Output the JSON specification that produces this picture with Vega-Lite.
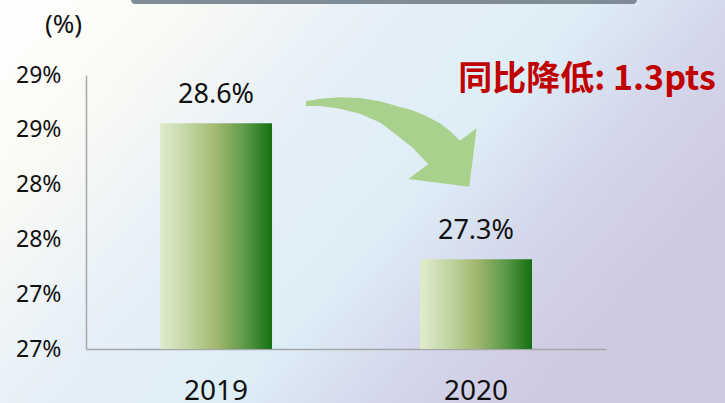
{
  "$schema": "https://vega.github.io/schema/vega-lite/v6.json",
  "width": 725,
  "height": 403,
  "autosize": {"type": "none"},
  "padding": 0,
  "background": "#E4EDF6",
  "config": {
    "font": "Noto Sans",
    "view": {
      "stroke": null,
      "fill": {
        "gradient": "linear",
        "x1": 0, "y1": 0, "x2": 1, "y2": 0.5,
        "stops": [
          {"offset": 0, "color": "#FFFFFF"},
          {"offset": 0.2, "color": "#FAFAF5"},
          {"offset": 0.45, "color": "#E5EFF8"},
          {"offset": 0.65, "color": "#DDEEF7"},
          {"offset": 0.82, "color": "#D4D6EA"},
          {"offset": 1, "color": "#CEC9E1"}
        ]
      }
    }
  },
  "resolve": {"scale": {"x": "independent"}},
  "layer": [
    {
      "data": {"values": [
        {"year": "2019", "value": 28.56, "label": "28.6%"},
        {"year": "2020", "value": 27.32, "label": "27.3%"}
      ]},
      "encoding": {
        "x": {
          "field": "year", "type": "nominal", "sort": null,
          "scale": {"range": [86, 606], "paddingInner": 0.569, "paddingOuter": 0.2846},
          "axis": {
            "title": null, "orient": "bottom", "offset": -54,
            "domainColor": "#A6A6A6", "domainWidth": 1.5,
            "ticks": false, "tickSize": 0,
            "labelAngle": 0, "labelFontSize": 28, "labelColor": "#111111",
            "labelBaseline": "alphabetic", "labelPadding": 50
          }
        },
        "y": {
          "field": "value", "type": "quantitative",
          "scale": {"domain": [26.5, 29], "range": [349, 75], "nice": false, "zero": false},
          "axis": {
            "orient": "left", "offset": -86,
            "values": [26.5, 27, 27.5, 28, 28.5, 29],
            "labelExpr": "format(datum.value, '.0f') + '%'",
            "grid": false, "ticks": false, "tickSize": 0,
            "domainColor": "#A6A6A6", "domainWidth": 1.5,
            "labelFontSize": 23, "labelColor": "#111111", "labelPadding": 25,
            "labelBaseline": "middle",
            "title": "(%)", "titleAngle": 0, "titleX": -23, "titleY": 24,
            "titleAlign": "center", "titleBaseline": "middle",
            "titleFontSize": 26, "titleFontWeight": "normal", "titleColor": "#111111"
          }
        }
      },
      "layer": [
        {
          "mark": {
            "type": "bar",
            "color": {
              "gradient": "linear", "x1": 0, "y1": 0, "x2": 1, "y2": 0,
              "stops": [
                {"offset": 0, "color": "#E1EBCE"},
                {"offset": 0.25, "color": "#C1D6A3"},
                {"offset": 0.5, "color": "#A2B86F"},
                {"offset": 0.75, "color": "#5E9B4B"},
                {"offset": 1, "color": "#137012"}
              ]
            }
          },
          "encoding": {"y2": {"datum": 26.5}}
        },
        {
          "mark": {"type": "text", "dy": -20, "baseline": "alphabetic", "fontSize": 27, "color": "#111111"},
          "encoding": {"text": {"field": "label"}}
        }
      ]
    },
    {
      "layer": [
        {
          "data": {"values": [
            {"x0": 0.173, "x1": 2.119, "y0": 29.74, "y1": 29.648}
          ]},
          "mark": {"type": "rect", "color": "#7F8C96", "cornerRadius": 4},
          "encoding": {
            "x": {"field": "x0", "type": "quantitative", "scale": {"domain": [0, 2], "range": [86, 606]}, "axis": null},
            "x2": {"field": "x1"},
            "y": {"field": "y0", "type": "quantitative"},
            "y2": {"field": "y1"}
          }
        },
        {
          "data": {"values": [{"px": 1.169, "val": 28.361}]},
          "mark": {
            "type": "point",
            "shape": "M-0.84,-0.437L-0.7,-0.463L-0.5,-0.477L-0.3,-0.47L-0.1,-0.437L0.1,-0.38L0.217,-0.35L0.35,-0.295L0.5,-0.217L0.6,-0.14L0.7,-0.043L0.867,-0.167L0.793,0.417L0.183,0.34L0.383,0.193L0.233,0.033L0.067,-0.1L-0.1,-0.225L-0.3,-0.313L-0.5,-0.363L-0.7,-0.39L-0.84,-0.39Z",
            "size": 40000, "filled": true, "color": "#A9D18E", "opacity": 1, "strokeWidth": 0
          },
          "encoding": {
            "x": {"field": "px", "type": "quantitative", "scale": {"domain": [0, 2], "range": [86, 606]}, "axis": null},
            "y": {"field": "val", "type": "quantitative"}
          }
        },
        {
          "data": {"values": [{"px": 1.927, "val": 28.954, "note": "同比降低: 1.3pts"}]},
          "mark": {"type": "text", "font": "Noto Sans CJK SC", "fontWeight": "bold", "fontSize": 34, "color": "#C00000", "align": "center", "baseline": "middle"},
          "encoding": {
            "x": {"field": "px", "type": "quantitative", "scale": {"domain": [0, 2], "range": [86, 606]}, "axis": null},
            "y": {"field": "val", "type": "quantitative"},
            "text": {"field": "note"}
          }
        }
      ]
    }
  ]
}
